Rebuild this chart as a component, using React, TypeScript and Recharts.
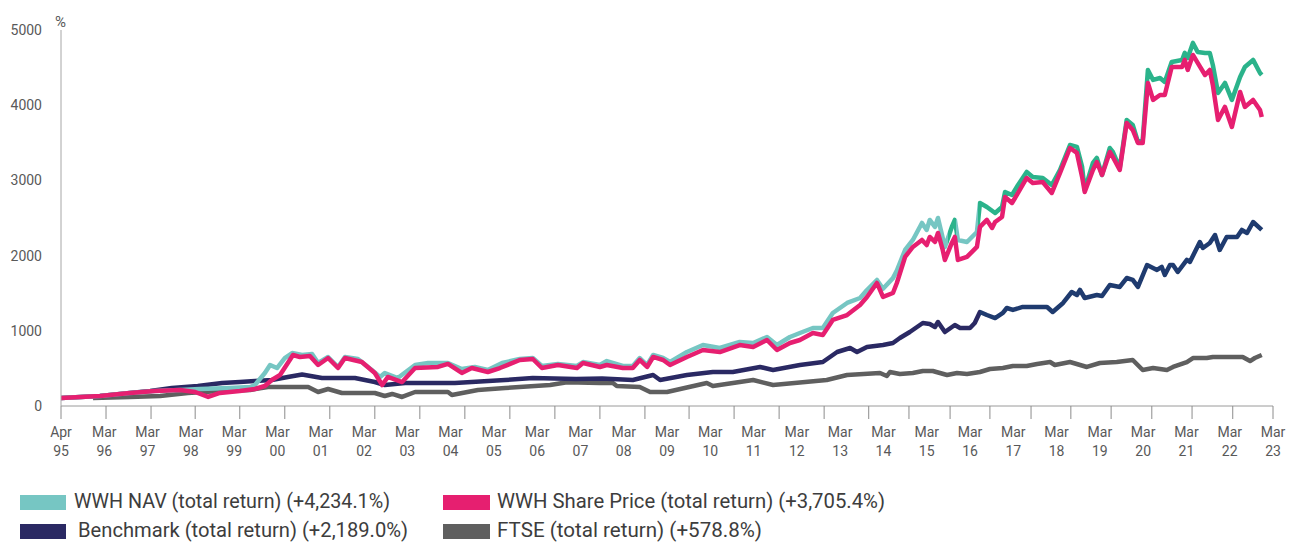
import React from 'react';
import { LineChart, Line, XAxis, YAxis } from 'recharts';

// axis labels
const yTicks = [0, 1000, 2000, 3000, 4000, 5000];
const xLabels = [
  'Apr 95', 'Mar 96', 'Mar 97', 'Mar 98', 'Mar 99', 'Mar 00', 'Mar 01', 'Mar 02', 'Mar 03', 'Mar 04',
  'Mar 05', 'Mar 06', 'Mar 07', 'Mar 08', 'Mar 09', 'Mar 10', 'Mar 11', 'Mar 12', 'Mar 13', 'Mar 14',
  'Mar 15', 'Mar 16', 'Mar 17', 'Mar 18', 'Mar 19', 'Mar 20', 'Mar 21', 'Mar 22', 'Mar 23',
];
const xLabelPos = xLabels.map((_, i) => 1995 + i);
// tick marks in the source don't line up with the labels
const xTickMarks = [
  1995, 1996.04, 1997.08, 1998.1, 1999.13, 2000.17, 2001.21, 2002.25, 2003.29, 2004.33,
  2005.37, 2006.41, 2007.45, 2008.49, 2009.51, 2010.55, 2011.59, 2012.63, 2013.66, 2014.59,
  2015.54, 2016.46, 2017.41, 2018.33, 2019.26, 2020.2, 2021.13, 2022.07, 2023,
];

// [period, %]
const navData: [number, number][] = [
  [1995.0, 106], [1995.9, 133], [1996.59, 173], [1997.17, 200], [1997.75, 213], [1998.21, 226],
  [1998.9, 239], [1999.37, 253], [1999.48, 279], [1999.71, 439], [1999.83, 545], [1999.99, 505],
  [2000.17, 638], [2000.34, 705], [2000.57, 678], [2000.8, 692], [2000.94, 572], [2001.17, 652],
  [2001.4, 519], [2001.56, 652], [2001.86, 625], [2002.18, 479], [2002.37, 386], [2002.48, 439],
  [2002.78, 372], [2003.18, 545], [2003.48, 572], [2003.94, 572], [2004.26, 492], [2004.56, 519],
  [2004.86, 479], [2005.19, 572], [2005.6, 625], [2005.9, 638], [2006.11, 532], [2006.48, 559],
  [2006.92, 532], [2007.06, 585], [2007.45, 545], [2007.61, 598], [2007.98, 532], [2008.21, 532],
  [2008.37, 638], [2008.54, 545], [2008.68, 678], [2008.91, 638], [2009.07, 585], [2009.46, 718],
  [2009.83, 811], [2010.22, 771], [2010.68, 851], [2010.99, 838], [2011.31, 918], [2011.54, 811],
  [2011.84, 918], [2012.07, 971], [2012.37, 1037], [2012.6, 1037], [2012.83, 1237], [2013.16, 1370],
  [2013.46, 1436], [2013.62, 1543], [2013.85, 1676], [2013.99, 1560], [2014.22, 1700], [2014.31, 1800],
  [2014.5, 2075], [2014.68, 2208], [2014.89, 2434], [2015.0, 2341], [2015.07, 2474], [2015.19, 2381],
  [2015.26, 2500], [2015.42, 2115], [2015.58, 2381], [2015.65, 2474], [2015.72, 2208], [2015.93, 2181],
  [2016.16, 2314], [2016.23, 2700], [2016.39, 2647], [2016.58, 2567], [2016.74, 2647], [2016.81, 2846],
  [2016.97, 2806], [2017.11, 2939], [2017.31, 3112], [2017.45, 3046], [2017.68, 3032], [2017.89, 2939],
  [2018.08, 3139], [2018.31, 3471], [2018.47, 3445], [2018.59, 3179], [2018.65, 2873], [2018.84, 3232],
  [2018.93, 3298], [2019.05, 3072], [2019.23, 3431], [2019.3, 3378], [2019.46, 3165], [2019.62, 3804],
  [2019.76, 3737], [2019.88, 3511], [2019.99, 3538], [2020.11, 4469], [2020.23, 4336], [2020.39, 4362],
  [2020.5, 4309], [2020.66, 4575], [2020.9, 4602], [2020.96, 4695], [2021.03, 4628], [2021.15, 4828],
  [2021.26, 4708], [2021.43, 4695], [2021.54, 4695], [2021.61, 4535], [2021.73, 4163], [2021.89, 4296],
  [2022.05, 4070], [2022.24, 4376], [2022.35, 4509], [2022.54, 4602], [2022.7, 4429], [2022.74, 4402],
];

const shareData: [number, number][] = [
  [1995.0, 106], [1995.9, 133], [1996.59, 173], [1997.17, 200], [1997.75, 213], [1998.1, 186],
  [1998.4, 120], [1998.67, 173], [1999.13, 200], [1999.48, 226], [1999.71, 266], [1999.87, 346],
  [2000.06, 412], [2000.24, 572], [2000.36, 678], [2000.52, 652], [2000.75, 665], [2000.94, 545],
  [2001.17, 638], [2001.4, 505], [2001.56, 638], [2001.95, 585], [2002.25, 439], [2002.42, 279],
  [2002.55, 386], [2002.88, 319], [2003.18, 505], [2003.71, 519], [2003.94, 559], [2004.26, 439],
  [2004.49, 505], [2004.86, 452], [2005.14, 505], [2005.6, 612], [2005.9, 625], [2006.11, 505],
  [2006.48, 545], [2006.92, 505], [2007.06, 572], [2007.45, 519], [2007.61, 545], [2007.98, 505],
  [2008.21, 505], [2008.37, 612], [2008.54, 519], [2008.68, 652], [2008.91, 612], [2009.07, 545],
  [2009.46, 652], [2009.83, 745], [2010.22, 718], [2010.68, 811], [2010.99, 785], [2011.31, 878],
  [2011.54, 745], [2011.84, 838], [2012.07, 878], [2012.37, 971], [2012.6, 944], [2012.83, 1144],
  [2013.16, 1210], [2013.46, 1343], [2013.62, 1450], [2013.85, 1636], [2013.99, 1450], [2014.22, 1503],
  [2014.31, 1636], [2014.5, 1982], [2014.68, 2115], [2014.89, 2208], [2015.0, 2141], [2015.07, 2248],
  [2015.19, 2181], [2015.26, 2301], [2015.37, 2075], [2015.42, 1942], [2015.58, 2168], [2015.65, 2248],
  [2015.72, 1942], [2015.93, 1982], [2016.16, 2115], [2016.23, 2381], [2016.39, 2474], [2016.51, 2367],
  [2016.58, 2447], [2016.74, 2514], [2016.81, 2780], [2016.97, 2700], [2017.11, 2833], [2017.31, 3032],
  [2017.45, 2966], [2017.68, 2979], [2017.89, 2833], [2018.08, 3099], [2018.31, 3431], [2018.47, 3365],
  [2018.59, 3046], [2018.65, 2846], [2018.84, 3139], [2018.93, 3245], [2019.05, 3072], [2019.23, 3378],
  [2019.3, 3312], [2019.46, 3139], [2019.62, 3764], [2019.76, 3671], [2019.88, 3498], [2019.99, 3498],
  [2020.11, 4296], [2020.23, 4070], [2020.39, 4136], [2020.5, 4136], [2020.66, 4509], [2020.9, 4509],
  [2020.96, 4602], [2021.03, 4469], [2021.15, 4668], [2021.26, 4562], [2021.43, 4402], [2021.54, 4469],
  [2021.61, 4269], [2021.73, 3804], [2021.89, 3977], [2022.05, 3711], [2022.24, 4176], [2022.35, 3977],
  [2022.54, 4070], [2022.7, 3937], [2022.74, 3844],
];

const benchmarkData: [number, number][] = [
  [1995.0, 106], [1995.9, 133], [1996.59, 173], [1997.06, 200], [1997.56, 239], [1998.16, 266],
  [1998.72, 306], [1999.13, 319], [1999.48, 332], [1999.87, 346], [2000.24, 386], [2000.57, 420],
  [2001.03, 372], [2001.79, 372], [2002.25, 319], [2002.48, 279], [2002.95, 306], [2004.1, 306],
  [2005.26, 346], [2005.9, 372], [2006.9, 360], [2007.5, 365], [2008.21, 346], [2008.68, 412],
  [2008.84, 346], [2009.46, 412], [2010.06, 452], [2010.52, 452], [2011.15, 519], [2011.45, 479],
  [2012.07, 545], [2012.6, 585], [2012.93, 718], [2013.23, 771], [2013.39, 718], [2013.62, 785],
  [2013.99, 811], [2014.22, 838], [2014.38, 904], [2014.61, 984], [2014.91, 1104], [2015.07, 1091],
  [2015.19, 1051], [2015.26, 1117], [2015.42, 984], [2015.65, 1077], [2015.77, 1037], [2016.0, 1037],
  [2016.11, 1104], [2016.23, 1250], [2016.39, 1210], [2016.58, 1170], [2016.76, 1237], [2016.85, 1303],
  [2016.99, 1277], [2017.22, 1317], [2017.78, 1317], [2017.91, 1250], [2018.15, 1370], [2018.35, 1516],
  [2018.47, 1476], [2018.54, 1543], [2018.65, 1436], [2018.93, 1476], [2019.05, 1463], [2019.23, 1609],
  [2019.46, 1583], [2019.62, 1702], [2019.76, 1676], [2019.88, 1583], [2020.09, 1875], [2020.32, 1809],
  [2020.43, 1849], [2020.5, 1742], [2020.62, 1875], [2020.69, 1875], [2020.8, 1782], [2021.01, 1942],
  [2021.08, 1915], [2021.31, 2181], [2021.38, 2101], [2021.54, 2168], [2021.66, 2274], [2021.77, 2075],
  [2021.93, 2248], [2022.17, 2248], [2022.28, 2341], [2022.4, 2301], [2022.54, 2447], [2022.74, 2341],
];

const ftseData: [number, number][] = [
  [1995.74, 106], [1996.59, 120], [1997.29, 133], [1997.93, 173], [1998.67, 200], [1999.37, 213],
  [1999.78, 253], [2000.29, 253], [2000.71, 253], [2000.94, 186], [2001.17, 226], [2001.49, 173],
  [2002.25, 173], [2002.48, 133], [2002.65, 160], [2002.88, 120], [2003.18, 186], [2003.94, 186],
  [2004.03, 146], [2004.63, 213], [2005.26, 239], [2006.3, 279], [2006.69, 315], [2007.45, 306],
  [2007.75, 306], [2007.84, 266], [2008.37, 253], [2008.61, 186], [2009.0, 186], [2009.92, 306],
  [2010.06, 266], [2010.99, 346], [2011.45, 279], [2012.69, 346], [2013.16, 412], [2013.92, 439],
  [2014.08, 399], [2014.15, 452], [2014.38, 426], [2014.68, 439], [2014.91, 465], [2015.14, 465],
  [2015.47, 412], [2015.7, 439], [2015.93, 426], [2016.23, 452], [2016.46, 492], [2016.76, 505],
  [2016.99, 532], [2017.31, 532], [2017.55, 559], [2017.85, 585], [2017.96, 545], [2018.31, 585],
  [2018.7, 519], [2019.0, 572], [2019.39, 585], [2019.76, 612], [2019.99, 479], [2020.23, 505],
  [2020.55, 479], [2020.69, 519], [2021.01, 585], [2021.15, 638], [2021.47, 638], [2021.61, 652],
  [2021.93, 652], [2022.3, 652], [2022.47, 598], [2022.58, 638], [2022.74, 678],
];

const legendLabels = [
  'WWH NAV (total return) (+4,234.1%)',
  'WWH Share Price (total return) (+3,705.4%)',
  'Benchmark (total return) (+2,189.0%)',
  'FTSE (total return) (+578.8%)',
];

const TEAL = '#76c6c3';
const GREEN = '#2bb38b';
const PINK = '#e61f70';
const NAVY = '#2a2963';
const NAVY2 = '#1f3b6f';
const GREY = '#5f5f5f';

const toPoints = (rows: [number, number][]) => rows.map(([t, v]) => ({ t, v }));

const axisTicks = Array.from(new Set([...xLabelPos, ...xTickMarks])).sort((a, b) => a - b);

// one axis carries both the labels and the (offset) tick marks
const XTick = (props: any) => {
  const { x, y, payload } = props;
  const idx = xLabelPos.indexOf(payload.value);
  const isMark = xTickMarks.includes(payload.value);
  const [m, yy] = idx >= 0 ? xLabels[idx].split(' ') : ['', ''];
  return (
    <g>
      {isMark && <line x1={x} y1={y} x2={x} y2={y + 13} stroke="#8c8c8c" strokeWidth={1} />}
      {idx >= 0 && (
        <text x={x} y={y} textAnchor="middle" fill="#595959" fontSize={14}>
          <tspan x={x} dy={31}>{m}</tspan>
          <tspan x={x} dy={19}>{yy}</tspan>
        </text>
      )}
    </g>
  );
};

const Legend = () => {
  const swatches = [TEAL, PINK, NAVY, GREY];
  const widths = [316, 388, 330, 265];
  return (
    <svg width={1290} height={62} style={{ position: 'absolute', left: 0, top: 480 }}>
      {legendLabels.map((label, i) => {
        const col = i % 2;
        const row = Math.floor(i / 2);
        const sx = col ? 443 : 20;
        const tx = col ? 497 : row ? 78 : 74;
        const top = row ? 44 : 15;
        return (
          <g key={label}>
            <rect x={sx} y={top} width={col ? 47 : 46} height={15} fill={swatches[i]} />
            <text x={tx} y={top + 13} fontSize={20} fill="#3d3d3d" textLength={widths[i]} lengthAdjust="spacingAndGlyphs">
              {label}
            </text>
          </g>
        );
      })}
    </svg>
  );
};

export default function App() {
  return (
    <div style={{ position: 'absolute', left: 0, top: 0, width: 1290, height: 542, background: '#fff', fontFamily: 'Roboto, sans-serif' }}>
      <LineChart width={1290} height={480} margin={{ top: 30, right: 17, bottom: 0, left: 0 }}>
        <defs>
          <linearGradient id="navStroke" gradientUnits="userSpaceOnUse" x1="0" y1="0" x2="1290" y2="0">
            <stop offset="0" stopColor={TEAL} />
            <stop offset="0.735" stopColor={TEAL} />
            <stop offset="0.735" stopColor={GREEN} />
            <stop offset="0.741" stopColor={GREEN} />
            <stop offset="0.741" stopColor={TEAL} />
            <stop offset="0.758" stopColor={TEAL} />
            <stop offset="0.758" stopColor={GREEN} />
            <stop offset="1" stopColor={GREEN} />
          </linearGradient>
          <linearGradient id="benchStroke" gradientUnits="userSpaceOnUse" x1="0" y1="0" x2="1290" y2="0">
            <stop offset="0" stopColor={NAVY} />
            <stop offset="0.76" stopColor={NAVY} />
            <stop offset="0.76" stopColor={NAVY2} />
            <stop offset="1" stopColor={NAVY2} />
          </linearGradient>
        </defs>
        <XAxis
          dataKey="t"
          type="number"
          domain={[1995, 2023]}
          ticks={axisTicks}
          interval={0}
          tick={<XTick />}
          tickLine={false}
          tickSize={0}
          tickMargin={0}
          axisLine={{ stroke: '#9a9a9a' }}
          height={74}
          allowDataOverflow
        />
        <YAxis
          domain={[0, 5000]}
          ticks={yTicks}
          interval={0}
          width={61}
          tickLine={false}
          tickSize={0}
          tickMargin={19}
          axisLine={{ stroke: '#a6a6a6' }}
          tick={{ fill: '#595959', fontSize: 14 }}
          label={{ value: '%', position: 'top', dx: 30, offset: 3, fill: '#595959', fontSize: 15 }}
        />
        <Line data={toPoints(ftseData)} dataKey="v" name="FTSE" type="linear" stroke={GREY} strokeWidth={4.5} dot={false} isAnimationActive={false} strokeLinejoin="round" />
        <Line data={toPoints(benchmarkData)} dataKey="v" name="Benchmark" type="linear" stroke="url(#benchStroke)" strokeWidth={4.5} dot={false} isAnimationActive={false} strokeLinejoin="round" />
        <Line data={toPoints(navData)} dataKey="v" name="WWH NAV" type="linear" stroke="url(#navStroke)" strokeWidth={4.5} dot={false} isAnimationActive={false} strokeLinejoin="round" />
        <Line data={toPoints(shareData)} dataKey="v" name="WWH Share Price" type="linear" stroke={PINK} strokeWidth={4.5} dot={false} isAnimationActive={false} strokeLinejoin="round" />
      </LineChart>
      <Legend />
    </div>
  );
}
